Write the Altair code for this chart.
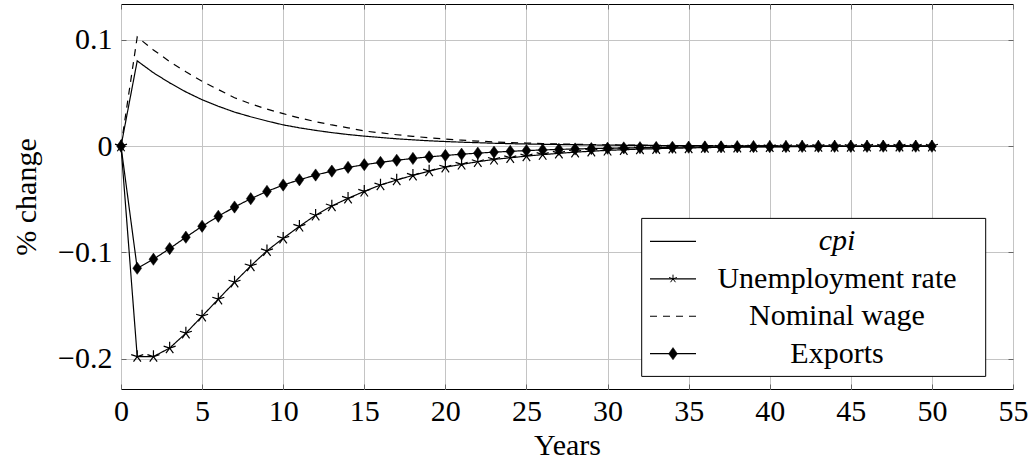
import altair as alt
import pandas as pd

years = list(range(51))

cpi = [0, 0.0802, 0.0690, 0.0595, 0.0510, 0.0436, 0.0375, 0.0320, 0.0276, 0.0236,
       0.0200, 0.0172, 0.0148, 0.0127, 0.0109, 0.0094, 0.0081, 0.0069, 0.0059, 0.0050,
       0.0043, 0.0037, 0.0032, 0.0027, 0.0023, 0.0020, 0.0017, 0.0015, 0.0013, 0.0011,
       0.0009, 0.0008, 0.0007, 0.0006, 0.0005, 0.0004, 0.0004, 0.0003, 0.0003, 0.0002,
       0.0002, 0.0002, 0.0001, 0.0001, 0.0001, 0.0001, 0.0001, 0.0001, 0.0, 0.0, 0.0]

unemp = [0, -0.198, -0.198, -0.190, -0.176, -0.160, -0.144, -0.128, -0.1127, -0.0985,
         -0.0867, -0.0755, -0.0650, -0.0563, -0.0491, -0.0426, -0.0366, -0.0319, -0.0275, -0.0235,
         -0.0198, -0.0172, -0.0147, -0.0125, -0.0110, -0.0094, -0.0080, -0.0068, -0.0057, -0.0048,
         -0.0040, -0.0034, -0.0028, -0.0024, -0.0020, -0.0017, -0.0014, -0.0012, -0.0010, -0.0008,
         -0.0007, -0.0006, -0.0005, -0.0004, -0.0003, -0.0003, -0.0002, -0.0002, -0.0001, -0.0001,
         -0.0001]

wage = [0, 0.1027, 0.0905, 0.0795, 0.0700, 0.0610, 0.0532, 0.0455, 0.0398, 0.0348,
        0.0305, 0.0265, 0.0230, 0.0199, 0.0172, 0.0142, 0.0125, 0.0107, 0.0092, 0.0078,
        0.0066, 0.0056, 0.0047, 0.0040, 0.0034, 0.0029, 0.0024, 0.0020, 0.0017, 0.0014,
        0.0012, 0.0010, 0.0009, 0.0007, 0.0006, 0.0005, 0.0004, 0.0004, 0.0003, 0.0003,
        0.0002, 0.0002, 0.0002, 0.0001, 0.0001, 0.0001, 0.0001, 0.0001, 0.0, 0.0, 0.0]

exports = [0, -0.1149, -0.1064, -0.0964, -0.0857, -0.0754, -0.0660, -0.0573, -0.0495, -0.0426,
           -0.0366, -0.0317, -0.0272, -0.0235, -0.0200, -0.0175, -0.0153, -0.0133, -0.0116, -0.0101,
           -0.0088, -0.0076, -0.0066, -0.0057, -0.0049, -0.0042, -0.0036, -0.0031, -0.0027, -0.0023,
           -0.0020, -0.0017, -0.0015, -0.0013, -0.0011, -0.0010, -0.0008, -0.0007, -0.0006, -0.0005,
           -0.0005, -0.0004, -0.0003, -0.0003, -0.0002, -0.0002, -0.0002, -0.0001, -0.0001, -0.0001,
           -0.0001]

series_names = ["cpi", "Unemployment rate", "Nominal wage", "Exports"]
x_ticks = list(range(0, 56, 5))
y_ticks = [-0.2, -0.1, 0.0, 0.1]

rows = []
for name, vals in zip(series_names, [cpi, unemp, wage, exports]):
    for x, v in zip(years, vals):
        rows.append({"year": x, "series": name, "value": v})
df = pd.DataFrame(rows)

legend_df = pd.DataFrame({"series": series_names, "row": [0, 1, 2, 3]})
box_df = pd.DataFrame({"k": [0]})

FONT = "Liberation Serif"
FS = 30
W, H = 892, 385

xs = alt.Scale(domain=[0, 55], nice=False, zero=False)
ys = alt.Scale(domain=[-0.2285, 0.1337], nice=False, zero=False)
dash_scale = alt.Scale(domain=series_names, range=[[1, 0], [1, 0], [7, 6], [1, 0]])

STAR = "M0,0L0,-1M0,0L-0.951,-0.309M0,0L-0.588,0.809M0,0L0.588,0.809M0,0L0.951,-0.309"
DIAM = "M0,-1L0.72,0L0,1L-0.72,0Z"

common_axis = dict(grid=True, gridColor="#c4c4c4", gridWidth=1, domain=False,
                   ticks=True, tickColor="#666666", tickSize=5, tickWidth=1, offset=-5,
                   labelFont=FONT, labelFontSize=FS, labelColor="black",
                   titleFont=FONT, titleFontSize=FS, titleFontWeight="normal",
                   titleColor="black", labelFlush=False, labelOverlap=False)

x_axis = alt.Axis(values=x_ticks, title="Years", format="d", labelPadding=7,
                  titlePadding=4, **common_axis)
y_axis = alt.Axis(values=y_ticks, title="% change", labelPadding=9, titlePadding=16,
                  labelExpr="datum.value == 0 ? '0' : format(datum.value, '.1f')",
                  **common_axis)

base = alt.Chart(df)

lines = base.mark_line(color="black", strokeWidth=1.2).encode(
    x=alt.X("year:Q", scale=xs, axis=x_axis),
    y=alt.Y("value:Q", scale=ys, axis=y_axis),
    strokeDash=alt.StrokeDash("series:N", scale=dash_scale, legend=None),
    detail="series:N",
)

stars = base.transform_filter(alt.datum.series == "Unemployment rate").mark_point(
    shape=STAR, filled=False, stroke="black", strokeWidth=1.2, size=160, opacity=1
).encode(
    x=alt.X("year:Q", scale=xs, axis=None),
    y=alt.Y("value:Q", scale=ys, axis=None),
)

diamonds = base.transform_filter(alt.datum.series == "Exports").mark_point(
    shape=DIAM, filled=True, fill="black", stroke="black", strokeWidth=0.5, size=150, opacity=1
).encode(
    x=alt.X("year:Q", scale=xs, axis=None),
    y=alt.Y("value:Q", scale=ys, axis=None),
)

opp_axis = dict(grid=False, domain=False, ticks=True, tickColor="#666666", tickSize=5,
                tickWidth=1, offset=-5, labels=False, title="")
tick_layer = base.mark_point(opacity=0).encode(
    x=alt.X("year:Q", scale=xs, axis=alt.Axis(orient="top", values=x_ticks, **opp_axis)),
    y=alt.Y("value:Q", scale=ys, axis=alt.Axis(orient="right", values=y_ticks, **opp_axis)),
)

main = alt.layer(lines, stars, diamonds, tick_layer).resolve_axis(x="independent", y="independent")

ly = alt.Y("row:Q", scale=alt.Scale(domain=[0, 3], range=[237.4, 349.7]), axis=None)

box = alt.Chart(box_df).mark_rect(fill="white", stroke="black", strokeWidth=1).encode(
    x=alt.value(520.7), x2=alt.value(864.7), y=alt.value(214.4), y2=alt.value(372.4)
)
leg_lines = alt.Chart(legend_df).mark_rule(color="black", strokeWidth=1.2).encode(
    x=alt.value(529), x2=alt.value(575), y=ly,
    strokeDash=alt.StrokeDash("series:N", scale=dash_scale, legend=None),
)
leg_stars = alt.Chart(legend_df).transform_filter(alt.datum.series == "Unemployment rate").mark_point(
    shape=STAR, filled=False, stroke="black", strokeWidth=1, size=70, opacity=1
).encode(x=alt.value(552), y=ly)
leg_diam = alt.Chart(legend_df).transform_filter(alt.datum.series == "Exports").mark_point(
    shape=DIAM, filled=True, fill="black", stroke="black", strokeWidth=0.5, size=150, opacity=1
).encode(x=alt.value(552), y=ly)
leg_text = alt.Chart(legend_df).transform_filter(alt.datum.series != "cpi").mark_text(
    font=FONT, fontSize=FS, align="center", baseline="middle", color="black"
).encode(x=alt.value(716), y=ly, text="series:N")
leg_text_it = alt.Chart(legend_df).transform_filter(alt.datum.series == "cpi").mark_text(
    font=FONT, fontSize=FS, fontStyle="italic", align="center", baseline="middle", color="black"
).encode(x=alt.value(716), y=ly, text="series:N")

legend = alt.layer(box, leg_lines, leg_stars, leg_diam, leg_text, leg_text_it)

chart = alt.layer(main, legend).resolve_scale(x="independent", y="independent").properties(
    width=W, height=H,
    autosize=alt.AutoSizeParams(type="none"),
    padding={"left": 121, "top": 4, "right": 21, "bottom": 79},
    background="white",
).configure_view(stroke="black", strokeWidth=1)

chart.save("out.html", embed_options={"renderer": "svg", "actions": False})
